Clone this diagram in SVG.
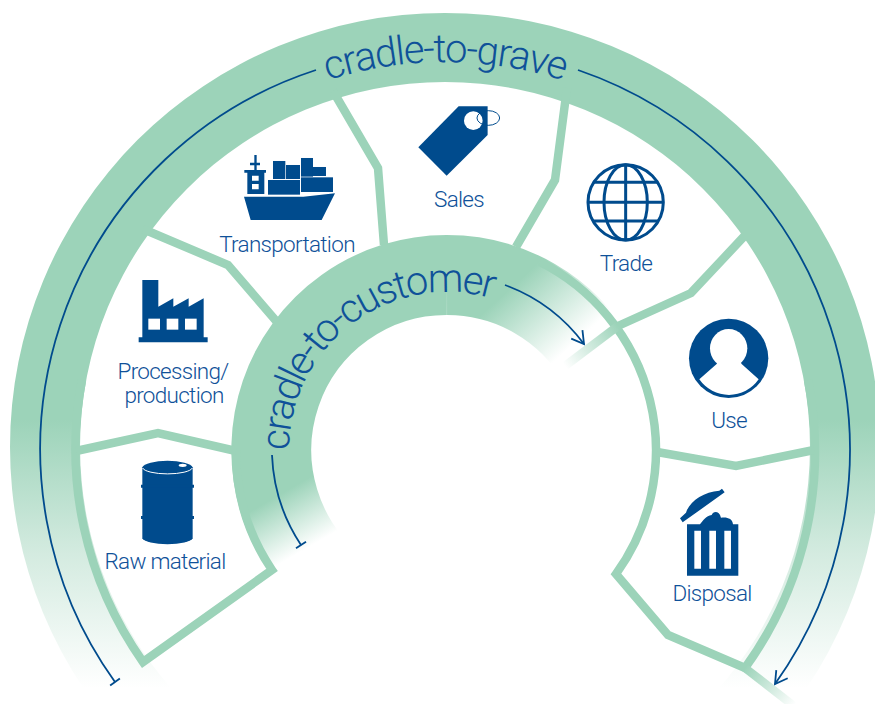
<svg xmlns="http://www.w3.org/2000/svg" width="875" height="704" viewBox="0 0 875 704">
<style>
.t{font-family:"Roboto","Liberation Sans",sans-serif;font-weight:300;font-size:22.5px;fill:#0f5199;text-anchor:middle;letter-spacing:-.7px}
.big{font-size:40px;letter-spacing:-1.5px}
.ln{fill:none;stroke:#9cd3b9;stroke-width:8.5;stroke-linejoin:miter}
.th{fill:none;stroke:#004b8d;stroke-width:1.8}
.b{fill:#004b8d}
.w{fill:#fff}
.o{fill:none;stroke:#004b8d;stroke-width:9}
</style>
<defs>
<linearGradient id="gO" gradientUnits="userSpaceOnUse" x1="0" y1="420" x2="0" y2="688"><stop offset="0" stop-color="#9cd3b9"/><stop offset=".5" stop-color="#d4ebe0"/><stop offset="1" stop-color="#fff"/></linearGradient>
<linearGradient id="gL" gradientUnits="userSpaceOnUse" x1="253" y1="510" x2="283" y2="562"><stop offset="0" stop-color="#9cd3b9"/><stop offset="1" stop-color="#fff"/></linearGradient>
<linearGradient id="gR" gradientUnits="userSpaceOnUse" x1="522" y1="278" x2="578" y2="340"><stop offset="0" stop-color="#9cd3b9"/><stop offset="1" stop-color="#fff"/></linearGradient>
<linearGradient id="gD" gradientUnits="userSpaceOnUse" x1="618" y1="326" x2="565" y2="366"><stop offset="0" stop-color="#9cd3b9"/><stop offset="1" stop-color="#fff"/></linearGradient>
<linearGradient id="gE" gradientUnits="userSpaceOnUse" x1="745" y1="668" x2="794" y2="706"><stop offset="0" stop-color="#9cd3b9"/><stop offset="1" stop-color="#fff"/></linearGradient>
<marker id="arr" markerUnits="userSpaceOnUse" markerWidth="30" markerHeight="30" refX="15" refY="15" orient="auto" overflow="visible"><path d="M3,8 L15,15 L3,22" fill="none" stroke="#004b8d" stroke-width="1.8"/></marker>
<marker id="bar" markerUnits="userSpaceOnUse" markerWidth="16" markerHeight="16" refX="8" refY="8" orient="auto" overflow="visible"><path d="M8,2 V14" fill="none" stroke="#004b8d" stroke-width="1.8"/></marker>
<path id="pO" d="M172.8,174.8 A385,385 0 0 1 717.2,174.8"/>
<path id="pI" d="M291.4,477.4 A158,158 0 0 1 528.4,314.6"/>
</defs>
<rect width="875" height="704" fill="#fff"/>
<g id="bands">
<path fill="url(#gO)" fill-rule="evenodd" d="M10,447 A435,434 0 1 1 880,447 A435,434 0 1 1 10,447 Z M80,447 A365,365 0 1 0 810,447 A365,365 0 1 0 80,447 Z"/>
<path fill="none" stroke="url(#gL)" stroke-width="80" d="M447,275 A175,175 0 0 0 340,589"/>
<path fill="none" stroke="url(#gR)" stroke-width="80" d="M447,275 A175,175 0 0 1 599,363"/>
</g>
<g id="connectors">
<path class="ln" d="M82,380 A369,369 0 0 0 143,662 L272,570 A211,211 0 0 1 236,450"/>
<path class="ln" d="M808,380 A369,369 0 0 1 745,668 L668,635 L616,574 A211,211 0 0 0 540,262"/>
<path class="ln" d="M76,451 L158,433 L236,451"/>
<path class="ln" d="M143,229 L228,265 L277,322"/>
<path class="ln" d="M333,91 L378,168 L384,245"/>
<path class="ln" d="M567,88 L555,180 L516,247"/>
<path class="ln" d="M751,229 L691,293 L618,326"/>
<path class="ln" style="stroke:url(#gD)" d="M618,326 L565,366"/>
<path class="ln" d="M657,452 L736,466 L814,450"/>
<path class="ln" style="stroke:url(#gE)" d="M745,668 L794,706"/>
<path class="th" marker-end="url(#bar)" d="M316,70 A399,399 0 0 0 115,682"/>
<path class="th" marker-end="url(#arr)" d="M578,70 A402,402 0 0 1 775,684"/>
<path class="th" marker-end="url(#bar)" d="M272,455 A175,175 0 0 0 301,545"/>
<path class="th" marker-end="url(#arr)" d="M505,285 A173,173 0 0 1 584,344"/>
</g>
<g id="label-grave"><text class="t big"><textPath href="#pO" startOffset="50%">cradle-to-grave</textPath></text></g>
<g id="label-customer"><text class="t big"><textPath href="#pI" startOffset="48%" style="letter-spacing:-2.2px">cradle-to-customer</textPath></text></g>
<g id="node-raw">
<g transform="translate(100,270) scale(.3333)">
<path class="b" d="M127,592 A76,22 0 0 1 278,592 V805 A76,20 0 0 1 127,805 Z"/>
<path class="b" d="M123,644 h159 v9 h-159 Z M123,738 h159 v9 h-159 Z"/>
<path d="M128,594 A75,20 0 0 0 277,594" fill="none" stroke="#fff" stroke-width="3"/>
<ellipse class="w" cx="248" cy="586" rx="12" ry="5"/>
</g>
<text class="t" x="165" y="569">Raw material</text>
</g>
<g id="node-processing">
<path class="b" transform="translate(100,270) scale(.3333)" d="M127,30 H175 V110 L220,85 V110 L266,85 V110 L311,85 V202 H323 V217 H116 V202 H127 Z"/>
<g class="w" transform="translate(100,270) scale(.3333)"><rect x="145" y="146" width="35" height="33"/><rect x="200" y="146" width="35" height="33"/><rect x="255" y="146" width="35" height="33"/></g>
<text class="t" x="173" y="379">Processing/</text>
<text class="t" x="174" y="403">production</text>
</g>
<g id="node-transportation">
<g class="b" transform="translate(220,90) scale(.3333)">
<path d="M72,320 H250 L345,310 L305,390 H92 Z"/>
<path fill-rule="evenodd" d="M103,195 H110 V218 H120 V226 H110 V240 H138 V248 H133 V312 H82 V248 H73 V240 H103 V226 H90 V218 H103 Z M96,257 V272 H116 V257 Z M96,282 V298 H116 V282 Z"/>
<rect x="144" y="270" width="96" height="44"/><rect x="243" y="262" width="96" height="44"/><rect x="159" y="213" width="37" height="54"/><rect x="198" y="225" width="42" height="42"/><rect x="243" y="204" width="36" height="56"/><rect x="279" y="231" width="39" height="27"/>
</g>
<text class="t" x="287" y="252">Transportation</text>
</g>
<g id="node-sales">
<g transform="translate(220,90) scale(.3333)">
<path class="b" d="M595,172 L716,49 H803 V135 L680,257 Z"/>
<circle class="w" cx="760" cy="92" r="28"/>
<ellipse cx="805" cy="84" rx="34" ry="22" fill="none" stroke="#004b8d" stroke-width="3"/>
</g>
<text class="t" x="459" y="207">Sales</text>
</g>
<g id="node-trade">
<g transform="translate(560,150) scale(.3333)">
<circle class="o" cx="197" cy="157" r="113"/>
<ellipse class="o" cx="197" cy="157" rx="65" ry="113"/>
<path class="o" d="M197,44 V270 M101,97 H293 M84,157 H310 M99,213 H295"/>
</g>
<text class="t" x="626" y="271">Trade</text>
</g>
<g id="node-use">
<g transform="translate(560,150) scale(.3333)">
<circle class="b" cx="506" cy="625" r="119"/>
<ellipse class="w" cx="506" cy="595" rx="56" ry="58"/>
<path class="w" d="M418,688 L470,642 L480,620 H532 L545,642 L596,688 A108,108 0 0 1 418,688 Z"/>
</g>
<text class="t" x="729" y="428">Use</text>
</g>
<g id="node-disposal">
<g transform="translate(600,440) scale(.3333)">
<path class="b" d="M240,235 L258,218 C268,185 310,155 358,152 L366,146 L374,157 L248,247 Z"/>
<path class="b" fill-rule="evenodd" d="M261,253 H300 C310,240 318,228 335,225 C340,212 358,212 363,233 C380,230 398,235 399,253 H415 V407 H261 Z M283,272 V386 H303 V272 Z M328,272 V386 H348 V272 Z M373,272 V386 H393 V272 Z"/>
</g>
<text class="t" x="712" y="601">Disposal</text>
</g>
</svg>
